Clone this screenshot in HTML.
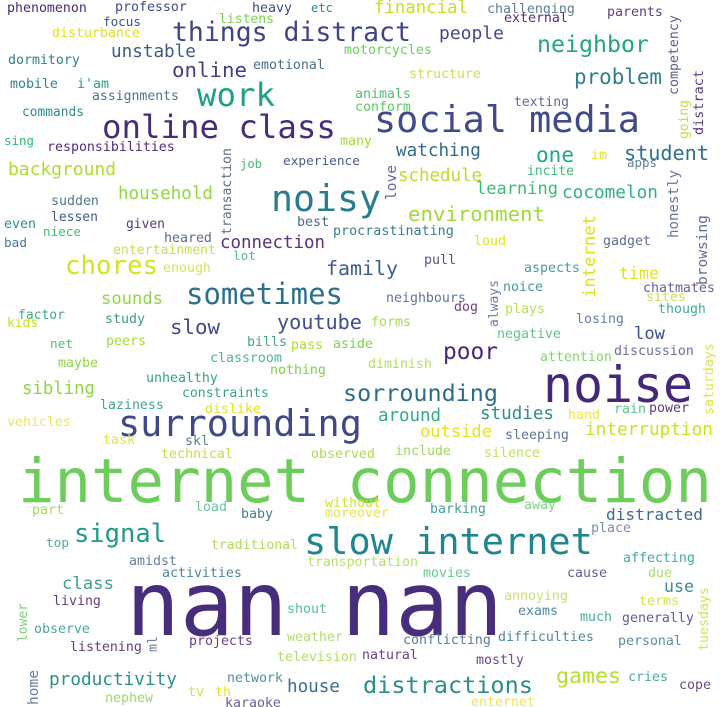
<!DOCTYPE html>
<html><head><meta charset="utf-8">
<style>
html,body{margin:0;padding:0;background:#fff;}
#cloud{position:relative;width:722px;height:707px;overflow:hidden;background:#fff;}
#cloud span{position:absolute;white-space:nowrap;line-height:1;font-family:"DejaVu Sans Mono","Liberation Mono",monospace;}
</style></head>
<body>
<div id="cloud"></div>
<script>
// horizontal words: text, x-left, baseline, measured width, color
const words = [
["phenomenon",7,13,80,"#482878"],["professor",115,12,72,"#3e4a89"],["heavy",252,13,40,"#3e4a89"],["etc",311,12,22,"#21908d"],
["focus",103,27,38,"#3b528b"],["listens",219,24,55,"#7ad151"],["disturbance",52,38,88,"#dde318"],
["things distract",172,42,239,"#414487"],["unstable",111,59,85,"#3d5a8a"],["online",172,78,75,"#433e85"],
["emotional",253,70,72,"#4a6d8c"],["dormitory",8,65,72,"#2e7e8e"],["mobile",10,89,48,"#25848e"],["i'am",77,89,32,"#2a9d8f"],
["work",197,106,78,"#1f9e89"],["assignments",92,101,87,"#51718f"],["commands",22,118,62,"#2c8c8e"],
["online class",102,138,234,"#472c7a"],["sing",4,146,30,"#35b779"],["responsibilities",47,152,128,"#4e2d7f"],
["background",8,176,108,"#addc30"],["job",240,168,22,"#45b97a"],["experience",283,167,77,"#4c5c8c"],
["household",118,201,95,"#8fd744"],["sudden",51,206,48,"#4f7592"],["lessen",51,222,47,"#445b8c"],["even",4,229,32,"#2d8e8e"],
["niece",43,237,38,"#40bd72"],["given",126,230,39,"#5b3a7e"],["best",297,227,32,"#4b6890"],["noisy",271,212,110,"#277d8e"],
["heared",164,243,48,"#5b6b8d"],
["challenging",487,14,88,"#5d7e98"],["financial",374,15,94,"#c8e020"],["external",504,23,64,"#5b2f7d"],["parents",607,17,56,"#5a3f80"],
["people",439,40,65,"#46478a"],["neighbor",537,53,112,"#21a585"],["motorcycles",344,55,88,"#6ece58"],["structure",409,79,72,"#c6e34a"],
["problem",574,85,88,"#2e7f8e"],["animals",355,99,56,"#4fbf6f"],["conform",355,112,56,"#5ec962"],["texting",514,107,55,"#5d6a96"],
["social media",374,133,266,"#3f4a8a"],["many",340,146,32,"#9fda3a"],["watching",396,158,85,"#31688e"],["one",536,162,38,"#22a785"],
["student",624,160,85,"#2c718e"],["im",591,160,16,"#e5e419"],["apps",627,168,30,"#5e7f99"],["incite",527,176,47,"#3fbc73"],
["schedule",398,183,84,"#b5de2b"],["learning",476,195,82,"#3bbb75"],["cocomelon",562,200,96,"#2eb37c"],
["environment",408,222,137,"#a0da39"],["procrastinating",333,236,121,"#3b7d8c"],
["bad",4,249,23,"#4a7a96"],["connection",220,250,105,"#5b2f81"],["entertainment",113,255,103,"#c4df52"],["lot",233,262,23,"#4fc08f"],
["chores",65,276,93,"#d6e21a"],["enough",163,273,48,"#d3e35b"],["family",326,276,72,"#3e5c8b"],["sometimes",186,305,157,"#2d708e"],
["sounds",101,306,62,"#8dd644"],["factor",18,320,47,"#3aae84"],["kids",7,329,31,"#c8e020"],["study",105,324,40,"#3c9b8c"],
["slow",170,335,50,"#404a8a"],["youtube",277,329,85,"#414c8b"],["net",50,350,23,"#4fbf6f"],["peers",106,346,40,"#a2da37"],
["bills",247,347,40,"#45a38a"],["pass",291,350,32,"#a8db34"],["aside",333,349,40,"#7bd050"],["classroom",210,363,72,"#4ab39c"],
["maybe",58,368,40,"#8fd744"],["nothing",270,375,56,"#7ed14e"],["unhealthy",146,383,72,"#31a38a"],["sorrounding",343,402,155,"#2e6c8e"],
["sibling",22,396,73,"#8dd644"],["constraints",182,398,87,"#37a28a"],["laziness",100,410,64,"#3ea592"],["dislike",205,414,56,"#e4e419"],
["surrounding",118,437,244,"#3f4889"],["vehicles",7,427,64,"#eee55a"],["task",103,445,32,"#e2e33a"],["skl",185,446,24,"#5a7d9a"],
["technical",161,459,72,"#bde14a"],["observed",311,459,64,"#a8dc4f"],
["loud",474,246,32,"#e2e418"],["gadget",603,246,48,"#5f6b95"],["pull",424,265,32,"#5e4f91"],["aspects",524,273,56,"#4a9b9a"],
["time",619,280,40,"#e0e320"],["noice",503,292,40,"#4598a0"],["neighbours",386,303,80,"#5f7399"],["chatmates",643,293,72,"#6b5c98"],
["sites",646,302,40,"#c6e155"],["dog",454,312,24,"#6b3f86"],["plays",505,314,40,"#b8df52"],["though",658,314,48,"#40ad96"],
["forms",371,327,40,"#a8dc4f"],["losing",576,324,48,"#6a7aa5"],["low",634,341,31,"#3c4e8c"],["negative",497,339,64,"#5cc48b"],
["discussion",614,356,80,"#6a6e9a"],["poor",443,360,55,"#482878"],["attention",540,362,72,"#82d56e"],["diminish",368,369,64,"#b7df55"],
["noise",543,403,150,"#45277a"],["power",649,413,40,"#5a3a83"],["rain",614,414,32,"#5dc58a"],["hand",568,420,32,"#f0e53d"],
["around",378,423,63,"#36a88b"],["studies",480,421,74,"#2f8b8d"],["interruption",585,437,128,"#cde11d"],["outside",420,438,72,"#e5e419"],
["sleeping",505,440,64,"#5e739d"],["include",395,456,56,"#9ed860"],["silence",484,458,56,"#bfe060"],
["internet connection",18,503,694,"#6ccd5a"],
["part",32,515,32,"#a6db50"],["load",195,512,32,"#6bc49a"],["baby",241,519,32,"#457b96"],["without",325,508,56,"#d0e230"],
["moreover",325,518,64,"#e6e54a"],["signal",74,544,92,"#1f9a8a"],["top",46,549,23,"#56a8a0"],["traditional",211,550,87,"#b0dc57"],
["slow internet",304,555,289,"#1f858e"],["amidst",129,566,48,"#65809f"],["transportation",307,567,111,"#b8e06a"],
["activities",162,578,80,"#4b86a0"],["class",62,591,52,"#3ba08f"],["living",53,606,48,"#633987"],["nan nan",126,637,377,"#472d7b"],
["shout",287,614,40,"#55c38f"],["observe",34,634,56,"#4aa6a0"],["listening",70,652,72,"#653b88"],["projects",189,646,64,"#6a3f8a"],
["weather",287,642,56,"#addf6a"],["television",277,662,80,"#b0dd62"],["productivity",49,687,128,"#2a918c"],["network",227,683,56,"#4e8ea2"],
["house",287,694,53,"#3b6f92"],["nephew",105,703,48,"#9bd86b"],["tv",188,697,16,"#d8e23a"],["th",215,697,16,"#e6e419"],["karaoke",225,708,56,"#6b5c98"],
["barking",430,514,56,"#41a19b"],["away",524,510,32,"#80d58a"],["distracted",606,521,97,"#3c6a92"],["place",591,533,40,"#7c8ca8"],
["affecting",623,563,72,"#45a9a0"],["movies",423,578,48,"#63cb8c"],["cause",567,578,40,"#5e5e95"],["due",648,578,24,"#a6dc66"],
["use",664,593,30,"#3a8a95"],["annoying",504,601,64,"#c4e36a"],["terms",639,606,40,"#d7e44a"],["exams",518,616,40,"#4f88a0"],
["much",580,622,32,"#4aa9a2"],["generally",622,623,72,"#5d5b96"],["difficulties",498,642,96,"#4b87a0"],["conflicting",403,645,88,"#5b7c9c"],
["personal",618,646,64,"#5b8ba0"],["natural",362,660,56,"#6a3f88"],["mostly",476,665,48,"#6a4a90"],["games",556,684,65,"#b4de2c"],
["cries",628,682,40,"#4aaaa2"],["cope",679,690,32,"#6b4a8c"],["distractions",363,694,170,"#2a8e8c"],["enternet",471,707,64,"#f2e54a"]
];
// vertical words (reading bottom to top): text, x-left, y-bottom, measured length, color
const vwords = [
["transaction",222,235,87,"#5f6d8d"],["competency",669,95,80,"#5a5d90"],["distract",694,135,65,"#5c3a7f"],["going",680,139,39,"#bfe042"],
["honestly",668,238,68,"#637595"],["love",386,200,35,"#7260a0"],["internet",583,298,83,"#dde318"],["browsing",697,285,70,"#5e6b93"],
["always",489,327,47,"#6f7ea3"],["saturdays",704,415,72,"#dfe448"],["lower",19,642,39,"#7fd176"],["ml",148,652,16,"#6e80a5"],
["home",28,705,35,"#6282a3"],["tuesdays",699,651,64,"#d5e24f"]
];
const cloud = document.getElementById('cloud');
const ADV = 0.602, BASE = 0.846;
function slug(t){return t.replace(/[^a-z0-9]+/gi,'-').toLowerCase();}
words.forEach(w => {
  const s = w[3] / (w[0].length * ADV);
  const el = document.createElement('span');
  el.textContent = w[0];
  
  
  el.style.fontSize = s + 'px';
  el.style.left = w[1] + 'px';
  el.style.top = (w[2] - BASE * s) + 'px';
  el.style.color = w[4];
  cloud.appendChild(el);
});
vwords.forEach(w => {
  const s = w[3] / (w[0].length * ADV);
  const el = document.createElement('span');
  el.textContent = w[0];
  
  
  el.style.fontSize = s + 'px';
  el.style.left = (w[1] - 0.086 * s) + 'px';
  el.style.top = w[2] + 'px';
  el.style.transformOrigin = 'left top';
  el.style.transform = 'rotate(-90deg)';
  el.style.color = w[4];
  cloud.appendChild(el);
});
</script>
</body></html>
